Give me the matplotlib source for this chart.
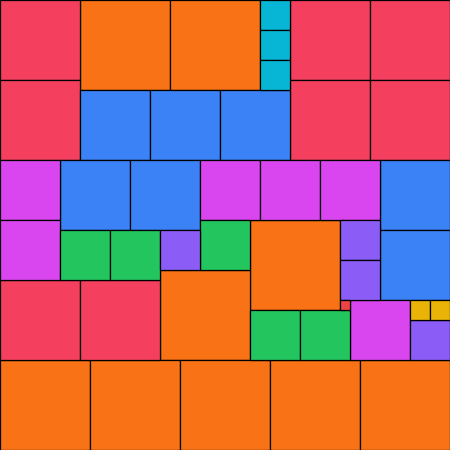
import matplotlib.pyplot as plt
from matplotlib.patches import Rectangle

# k squares of side k (sum of cubes = 45^2)
sides = [9, 8, 7, 6, 5, 4, 3, 2, 1]
counts = [9, 8, 7, 6, 5, 4, 3, 2, 1]
colors = ['#F97316', '#F43F5E', '#3B82F6', '#D946EF', '#22C55E',
          '#8B5CF6', '#06B6D4', '#EAB308', '#EF4444']

# top-left corner of each square, in grid units (row 0 = top)
placements = {
    9: [(8, 0), (17, 0), (25, 22), (16, 27), (0, 36), (9, 36), (18, 36), (27, 36), (36, 36)],
    8: [(0, 0), (0, 8), (29, 0), (37, 0), (29, 8), (37, 8), (0, 28), (8, 28)],
    7: [(8, 9), (15, 9), (22, 9), (6, 16), (13, 16), (38, 16), (38, 23)],
    6: [(0, 16), (0, 22), (20, 16), (26, 16), (32, 16), (35, 30)],
    5: [(6, 23), (11, 23), (20, 22), (25, 31), (30, 31)],
    4: [(16, 23), (34, 22), (34, 26), (41, 32)],
    3: [(26, 0), (26, 3), (26, 6)],
    2: [(41, 30), (43, 30)],
    1: [(34, 30)],
}

fig = plt.figure(figsize=(4.5, 4.5), dpi=100)
ax = fig.add_axes([0, 0, 1, 1])

for side, n, col in zip(sides, counts, colors):
    for (x, y) in placements[side][:n]:
        ax.add_patch(Rectangle((x, y), side, side, facecolor=col,
                               edgecolor='black', linewidth=0.9))

ax.set_xlim(0, 45)
ax.set_ylim(45, 0)
ax.axis('off')
fig.savefig('out.png', dpi=100)
